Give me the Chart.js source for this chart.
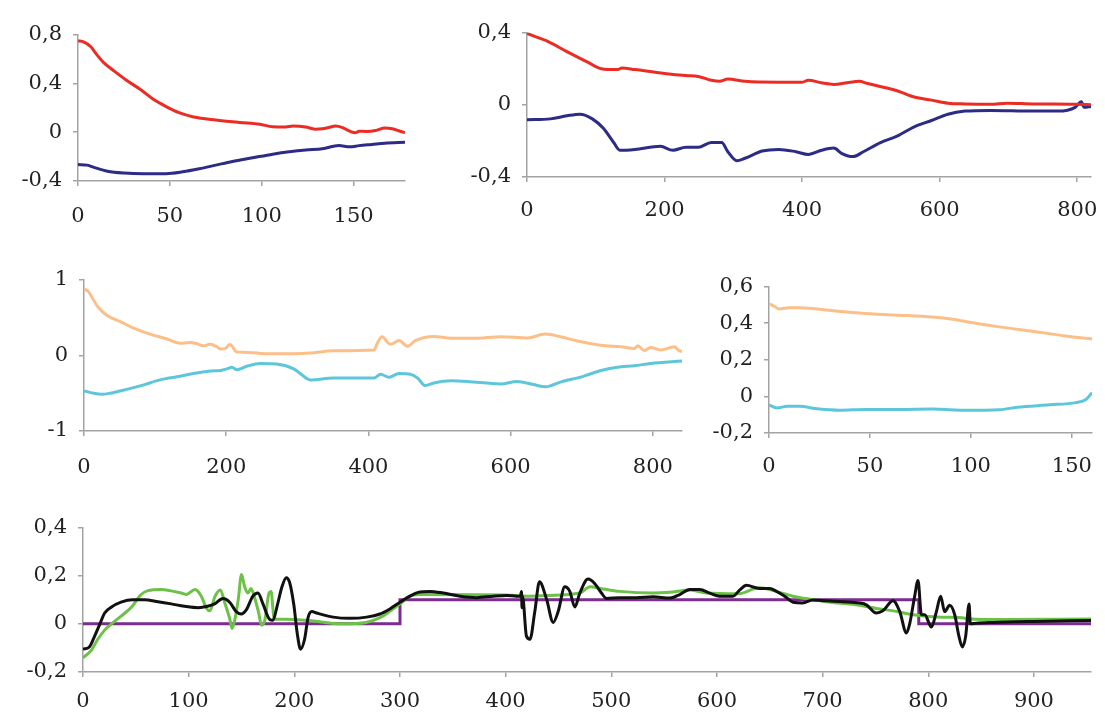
<!DOCTYPE html>
<html>
<head>
<meta charset="utf-8">
<script src="https://cdn.jsdelivr.net/npm/chart.js@4.4.1/dist/chart.umd.min.js"></script>
<style>
  html, body { margin: 0; padding: 0; background: #fff; }
  body { width: 1105px; height: 718px; position: relative; overflow: hidden; }
  canvas { position: absolute; }
</style>
</head>
<body>
<canvas id="p1"></canvas>
<canvas id="p2"></canvas>
<canvas id="p3"></canvas>
<canvas id="p4"></canvas>
<canvas id="p5"></canvas>
<script>
// ---- data: [x, y] pairs ----

// top left
const p1XTicks = [0, 50, 100, 150];
const p1YTicks = [-0.4, 0, 0.4, 0.8];
const p1Red = [[0,0.75],[3,0.74],[7,0.70],[10,0.64],[14,0.57],[19,0.51],[26,0.43],[34,0.35],[41,0.27],[48,0.21],[55,0.16],[63,0.125],[75,0.10],[88,0.08],[99,0.065],[106,0.045],[113,0.043],[117,0.05],[124,0.042],[129,0.025],[133,0.028],[137,0.04],[140,0.05],[144,0.038],[148,0.008],[151,-0.005],[153,0.008],[157,0.006],[162,0.014],[167,0.034],[171,0.028],[175,0.01],[178,-0.005]];
const p1Navy = [[0,-0.265],[5,-0.27],[9,-0.29],[16,-0.32],[25,-0.335],[36,-0.34],[48,-0.34],[57,-0.325],[66,-0.30],[75,-0.27],[84,-0.24],[95,-0.21],[106,-0.18],[115,-0.16],[124,-0.145],[133,-0.135],[142,-0.11],[148,-0.12],[153,-0.11],[160,-0.10],[167,-0.09],[178,-0.083]];

// top right
const p2XTicks = [0, 200, 400, 600, 800];
const p2YTicks = [-0.4, 0, 0.4];
const p2Red = [[0,0.395],[28,0.355],[58,0.295],[89,0.235],[108,0.20],[132,0.195],[138,0.204],[157,0.195],[200,0.174],[231,0.162],[249,0.157],[268,0.136],[280,0.13],[292,0.143],[317,0.13],[366,0.125],[400,0.125],[409,0.136],[428,0.122],[446,0.113],[465,0.122],[483,0.13],[495,0.118],[520,0.096],[538,0.078],[563,0.043],[588,0.026],[612,0.009],[637,0.005],[674,0.003],[698,0.009],[735,0.005],[797,0.003],[820,0]];
const p2Navy = [[0,-0.083],[34,-0.078],[58,-0.061],[77,-0.052],[95,-0.078],[111,-0.13],[126,-0.209],[135,-0.252],[157,-0.247],[194,-0.23],[212,-0.252],[231,-0.235],[249,-0.235],[268,-0.209],[283,-0.209],[292,-0.26],[305,-0.31],[317,-0.296],[342,-0.256],[366,-0.247],[391,-0.26],[409,-0.275],[428,-0.252],[446,-0.24],[458,-0.27],[474,-0.287],[489,-0.26],[514,-0.209],[538,-0.174],[563,-0.122],[588,-0.087],[612,-0.052],[637,-0.035],[674,-0.031],[735,-0.035],[772,-0.035],[797,-0.014],[806,0.017],[810,-0.014],[820,-0.009]];

// middle left
const p3XTicks = [0, 200, 400, 600, 800];
const p3YTicks = [-1, 0, 1];
const p3Orange = [[0,0.875],[6,0.842],[13,0.738],[20,0.634],[32,0.53],[51,0.446],[69,0.363],[93,0.28],[116,0.218],[135,0.16],[149,0.168],[158,0.155],[168,0.125],[177,0.146],[187,0.113],[192,0.084],[199,0.092],[205,0.142],[209,0.113],[214,0.045],[224,0.04],[248,0.025],[271,0.022],[295,0.022],[318,0.03],[351,0.06],[408,0.07],[412,0.15],[419,0.245],[431,0.145],[443,0.195],[455,0.12],[466,0.195],[492,0.25],[516,0.225],[562,0.23],[586,0.245],[624,0.23],[649,0.28],[670,0.245],[694,0.188],[727,0.133],[755,0.112],[774,0.091],[779,0.125],[788,0.062],[797,0.104],[811,0.07],[830,0.112],[837,0.062],[841,0.05]];
const p3Cyan = [[0,-0.47],[13,-0.50],[25,-0.515],[37,-0.50],[60,-0.45],[84,-0.39],[107,-0.325],[131,-0.283],[154,-0.24],[178,-0.208],[192,-0.2],[201,-0.179],[208,-0.158],[215,-0.191],[229,-0.145],[248,-0.108],[271,-0.116],[295,-0.179],[304,-0.24],[318,-0.325],[351,-0.30],[389,-0.30],[408,-0.30],[417,-0.25],[429,-0.29],[443,-0.24],[459,-0.25],[469,-0.30],[480,-0.40],[492,-0.366],[516,-0.337],[539,-0.345],[586,-0.379],[609,-0.345],[632,-0.387],[649,-0.416],[670,-0.354],[703,-0.275],[727,-0.2],[750,-0.158],[774,-0.137],[797,-0.108],[841,-0.075]];

// middle right
const p4XTicks = [0, 50, 100, 150];
const p4YTicks = [-0.2, 0, 0.2, 0.4, 0.6];
const p4Orange = [[0,0.507],[3,0.49],[5,0.478],[10,0.485],[15,0.485],[32,0.468],[50,0.451],[65,0.444],[81,0.434],[91,0.422],[101,0.402],[114,0.38],[131,0.355],[147,0.33],[160,0.313]];
const p4Cyan = [[0,-0.047],[4,-0.063],[9,-0.054],[15,-0.054],[24,-0.068],[35,-0.076],[48,-0.071],[65,-0.071],[81,-0.069],[98,-0.076],[114,-0.073],[123,-0.059],[139,-0.046],[152,-0.034],[157,-0.017],[160,0.02]];

// bottom
const p5XTicks = [0, 100, 200, 300, 400, 500, 600, 700, 800, 900];
const p5YTicks = [-0.2, 0, 0.2, 0.4];
const p5Black = [[0,-0.105],[6,-0.096],[11,-0.051],[16,0],[20.5,0.045],[27,0.07],[36,0.09],[47,0.1],[58,0.1],[71,0.092],[83.5,0.083],[96,0.073],[109,0.067],[118,0.073],[124.6,0.083],[132.5,0.105],[138.8,0.09],[145,0.051],[149.8,0.041],[154.5,0.058],[160.8,0.115],[165.6,0.128],[170.3,0.083],[176.6,0.019],[179.8,0.015],[183.9,0.077],[188.3,0.154],[192.4,0.192],[195.5,0.173],[199.6,0.077],[202.7,-0.038],[205.9,-0.105],[209.7,-0.064],[213,0.026],[216.6,0.051],[221,0.045],[236.8,0.028],[252.6,0.023],[268.4,0.028],[281,0.041],[290.4,0.062],[300,0.09],[309.4,0.115],[317.2,0.131],[328.3,0.135],[340.9,0.128],[356.7,0.115],[372.5,0.109],[388.3,0.115],[400.9,0.118],[410.3,0.115],[414,0.115],[415,0.135],[415.5,0.067],[416,0.115],[419.7,-0.051],[423,-0.064],[427.6,0.051],[432,0.175],[438.7,0.103],[445,0.006],[449.7,0.051],[456,0.154],[460.7,0.135],[465.5,0.07],[470.2,0.128],[478,0.186],[484.4,0.167],[490.7,0.128],[495.5,0.105],[508,0.109],[523.8,0.109],[539.6,0.113],[555.3,0.107],[564.8,0.122],[574.3,0.143],[583.7,0.143],[593.2,0.128],[602.6,0.115],[615.2,0.115],[621.6,0.141],[627.9,0.16],[640,0.147],[650,0.147],[656.3,0.135],[664.1,0.115],[672,0.09],[681.2,0.087],[690.7,0.099],[703.5,0.096],[719.3,0.092],[735,0.087],[741.4,0.079],[750.9,0.045],[757,0.054],[766.6,0.096],[773,0.051],[779.3,-0.038],[782.4,0],[787.1,0.115],[790.3,0.18],[793.5,0.038],[796.6,0.038],[803,-0.013],[807.7,0.051],[811.7,0.115],[815.5,0.051],[820.2,0.077],[825,0.038],[829,-0.051],[832.2,-0.096],[835.4,-0.051],[838.6,0.083],[839.8,0],[845.5,0.003],[861.3,0.006],[900,0.01],[954,0.014]];
const p5Green = [[0,-0.141],[8,-0.109],[14,-0.064],[20.5,-0.026],[27,0],[36,0.032],[46,0.07],[55,0.122],[61.5,0.138],[74,0.143],[83.5,0.137],[93,0.128],[98,0.122],[106,0.143],[112,0.115],[117,0.064],[120,0.054],[125,0.115],[130,0.141],[134,0.09],[139,0.019],[141,-0.019],[143.5,0.013],[147,0.103],[150,0.205],[153,0.154],[156,0.128],[159,0.147],[162,0.115],[166,0.051],[169,-0.006],[172,0.013],[176,0.128],[178,0.135],[180,0.051],[181,0.019],[191,0.019],[216,0.013],[245,0],[268,0.006],[281,0.026],[290,0.051],[300,0.083],[309,0.115],[318,0.122],[400,0.12],[420,0.115],[440,0.118],[470,0.128],[480,0.154],[490,0.147],[508,0.135],[540,0.128],[555,0.131],[575,0.141],[590,0.128],[620,0.125],[640,0.15],[656,0.135],[672,0.115],[687,0.103],[703,0.092],[735,0.077],[751,0.064],[767,0.054],[786,0.038],[798,0.032],[813,0.028],[829,0.026],[845,0.019],[866,0.018],[954,0.02]];
const p5Purple = [[0,0],[300,0.1],[791,0],[954,0]];

// ---- helpers ----
const FONT = { family: "'DejaVu Serif', 'Liberation Serif', serif", size: 21 };
const TEXT = "#222222";
const AXIS = "#a3a3a3";
const YW = 70, PT = 14, PR = 30, XH = 52;

const fmt = (v) => String(v).replace(".", ",");
const pts = (arr) => arr.map(([x, y]) => ({ x, y }));

function line(arr, color, extra) {
  return Object.assign({
    data: pts(arr),
    borderColor: color,
    borderWidth: 3,
    pointRadius: 0,
    fill: false,
    cubicInterpolationMode: "monotone",
    tension: 0.4,
  }, extra || {});
}

function axis(ticks, min, max, pad, isX) {
  return {
    type: "linear",
    min, max,
    border: { display: true, color: AXIS, width: 1.5 },
    grid: { display: true, drawOnChartArea: false, drawTicks: true, tickLength: 5, color: AXIS, lineWidth: 1.5 },
    ticks: { color: TEXT, font: FONT, padding: pad, maxRotation: 0, callback: (v) => fmt(v) },
    afterBuildTicks: (s) => { s.ticks = ticks.map((v) => ({ value: v })); },
    afterFit: (s) => { if (isX) s.height = XH; else s.width = YW; },
  };
}

function panel(id, box, xTicks, xMax, yTicks, datasets) {
  const c = document.getElementById(id);
  c.width = YW + (box.R - box.L) + PR;
  c.height = PT + (box.B - box.T) + XH;
  c.style.left = (box.L - YW) + "px";
  c.style.top = (box.T - PT) + "px";
  new Chart(c, {
    type: "line",
    data: { datasets },
    options: {
      responsive: false,
      animation: false,
      events: [],
      layout: { padding: { top: PT, right: PR, bottom: 0, left: 0 } },
      plugins: { legend: { display: false }, tooltip: { enabled: false } },
      scales: {
        x: axis(xTicks, 0, xMax, box.xPad, true),
        y: axis(yTicks, yTicks[0], yTicks[yTicks.length - 1], 11, false),
      },
    },
  });
}

// ---- draw ----
const RED = "#ec2b22", NAVY = "#2c2b86", PEACH = "#fdbf88", CYAN = "#5ec6da";
const GREEN = "#6cc147", BLACK = "#111111", PURPLE = "#7b2c8e";

panel("p1", { L: 78, R: 405, T: 25, B: 181, xPad: 18 }, p1XTicks, 178, p1YTicks, [
  line(p1Red, RED), line(p1Navy, NAVY),
]);
panel("p2", { L: 527, R: 1091, T: 23, B: 177, xPad: 16 }, p2XTicks, 820, p2YTicks, [
  line(p2Red, RED), line(p2Navy, NAVY),
]);
panel("p3", { L: 84, R: 682, T: 270, B: 431, xPad: 19 }, p3XTicks, 841, p3YTicks, [
  line(p3Orange, PEACH), line(p3Cyan, CYAN),
]);
panel("p4", { L: 769, R: 1092, T: 277, B: 433, xPad: 16 }, p4XTicks, 160, p4YTicks, [
  line(p4Orange, PEACH), line(p4Cyan, CYAN),
]);
panel("p5", { L: 83, R: 1091, T: 518, B: 672, xPad: 12 }, p5XTicks, 954, p5YTicks, [
  line(p5Black, BLACK),
  line(p5Green, GREEN),
  line(p5Purple, PURPLE, { stepped: "before", tension: 0, cubicInterpolationMode: "default" }),
]);
</script>
</body>
</html>
